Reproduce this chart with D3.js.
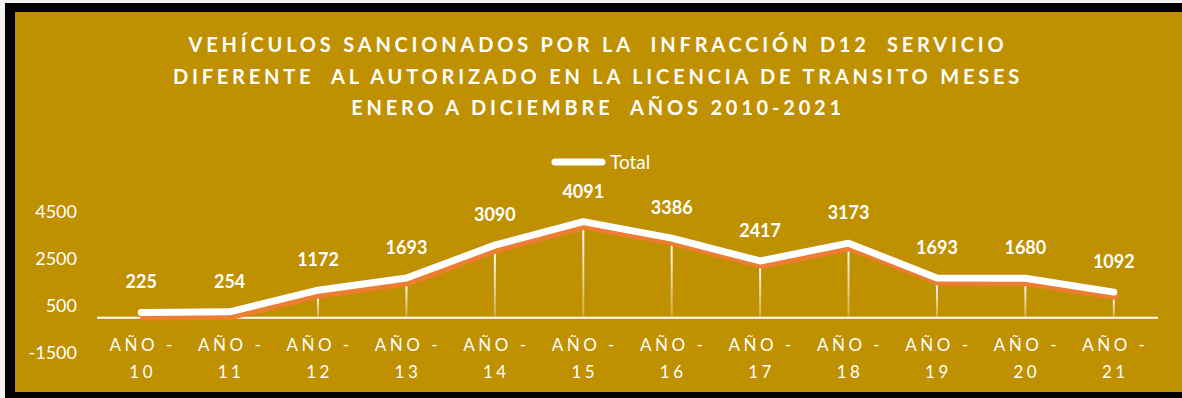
<!DOCTYPE html>
<html>
<head>
<meta charset="utf-8">
<script src="https://cdn.jsdelivr.net/npm/d3@7"></script>
<style>
  html, body { margin: 0; padding: 0; background: #f2f2f2; }
  svg { display: block; }
  text { font-family: Lato, "Open Sans", sans-serif; fill: #ffffff; }
</style>
</head>
<body>
<svg id="chart" width="1182" height="398"></svg>
<script>
// Annual totals of vehicles sanctioned (infraction D12)
const categories = ["AÑO - 10", "AÑO - 11", "AÑO - 12", "AÑO - 13", "AÑO - 14", "AÑO - 15",
                    "AÑO - 16", "AÑO - 17", "AÑO - 18", "AÑO - 19", "AÑO - 20", "AÑO - 21"];
const totals = [225, 254, 1172, 1693, 3090, 4091, 3386, 2417, 3173, 1693, 1680, 1092];
const yTicks = [-1500, 500, 2500, 4500];
const titleLines = [
  "VEHÍCULOS SANCIONADOS POR LA  INFRACCIÓN D12  SERVICIO",
  "DIFERENTE  AL AUTORIZADO EN LA LICENCIA DE TRANSITO MESES",
  "ENERO A DICIEMBRE  AÑOS 2010-2021"
];
const seriesName = "Total";

const svg = d3.select("#chart");
const W = 1182, H = 398;

// frame and background
svg.append("rect").attr("x", 5).attr("y", 3).attr("width", W - 5).attr("height", H - 3).attr("fill", "#000");
svg.append("rect").attr("x", 15).attr("y", 12).attr("width", W - 15).attr("height", 380).attr("fill", "#BF9000");

// scales
const x = d3.scaleBand().domain(categories).range([97, 1158]);
const y = d3.scaleLinear().domain([-1500, 4500]).range([353, 212]);
const cx = d => x(d) + x.bandwidth() / 2;

// title
const title = svg.append("text")
  .attr("text-anchor", "middle")
  .style("font-weight", "bold")
  .style("font-size", "20px")
  .style("letter-spacing", "3.8px")
  .style("white-space", "pre");
titleLines.forEach((t, i) => {
  title.append("tspan").attr("x", 598).attr("y", 52 + i * 31.5).text(t);
});

// legend
const lg = svg.append("g");
lg.append("line").attr("x1", 555).attr("x2", 602).attr("y1", 162).attr("y2", 162)
  .attr("stroke", "#fff").attr("stroke-width", 7).attr("stroke-linecap", "round");
lg.append("text").attr("x", 610).attr("y", 162).attr("dy", "0.35em")
  .style("font-size", "19px").text(seriesName);

// y axis labels
const yAxis = d3.axisLeft(y).tickValues(yTicks).tickSize(0).tickPadding(0).tickFormat(d => String(d));
const ya = svg.append("g").attr("transform", "translate(77,0)").call(yAxis);
ya.select(".domain").remove();
ya.selectAll("text").style("font-size", "18px").style("font-family", "Lato, sans-serif").attr("fill", "#fff");

// category axis line
svg.append("line").attr("x1", 97).attr("x2", 1158).attr("y1", y(0)).attr("y2", y(0))
  .attr("stroke", "#fff").attr("stroke-width", 2);

// category labels (two lines)
const xl = svg.append("g").selectAll("text").data(categories).join("text")
  .attr("text-anchor", "middle")
  .style("font-size", "17px")
  .style("letter-spacing", "3.5px");
xl.append("tspan").attr("x", d => cx(d) + 1.5).attr("y", 351).text(d => d.split(" - ")[0] + " -");
xl.append("tspan").attr("x", d => cx(d) + 1.5).attr("y", 378).text(d => d.split(" - ")[1]);

// depth offset of the ribbon's front face
const dx = 2, dy = 5;

// drop lines
const grad = svg.append("defs").append("linearGradient").attr("id", "dropFade")
  .attr("x1", 0).attr("x2", 0).attr("y1", 0).attr("y2", 1);
grad.append("stop").attr("offset", "0%").attr("stop-color", "#fff").attr("stop-opacity", 1);
grad.append("stop").attr("offset", "100%").attr("stop-color", "#fff").attr("stop-opacity", 0.25);

svg.append("g").selectAll("rect").data(categories).join("rect")
  .attr("x", d => cx(d) - 1)
  .attr("width", 2)
  .attr("y", (d, i) => y(totals[i]) + dy)
  .attr("height", (d, i) => Math.max(0, y(0) - y(totals[i]) - dy))
  .attr("fill", "url(#dropFade)");

const line = d3.line().x((v, i) => cx(categories[i])).y(v => y(v));

// front face (orange)
svg.append("path").datum(totals)
  .attr("transform", `translate(${dx},${dy})`)
  .attr("d", line).attr("fill", "none")
  .attr("stroke", "#ED7D31").attr("stroke-width", 6)
  .attr("stroke-linejoin", "round").attr("stroke-linecap", "round");

// top face (white)
svg.append("path").datum(totals)
  .attr("d", line).attr("fill", "none")
  .attr("stroke", "#fff").attr("stroke-width", 7)
  .attr("stroke-linejoin", "round").attr("stroke-linecap", "round");

// data labels
svg.append("g").selectAll("text").data(totals).join("text")
  .attr("x", (v, i) => cx(categories[i]))
  .attr("y", v => y(v) - 24)
  .attr("text-anchor", "middle")
  .style("font-weight", "bold")
  .style("font-size", "18px")
  .text(v => v);
</script>
</body>
</html>
